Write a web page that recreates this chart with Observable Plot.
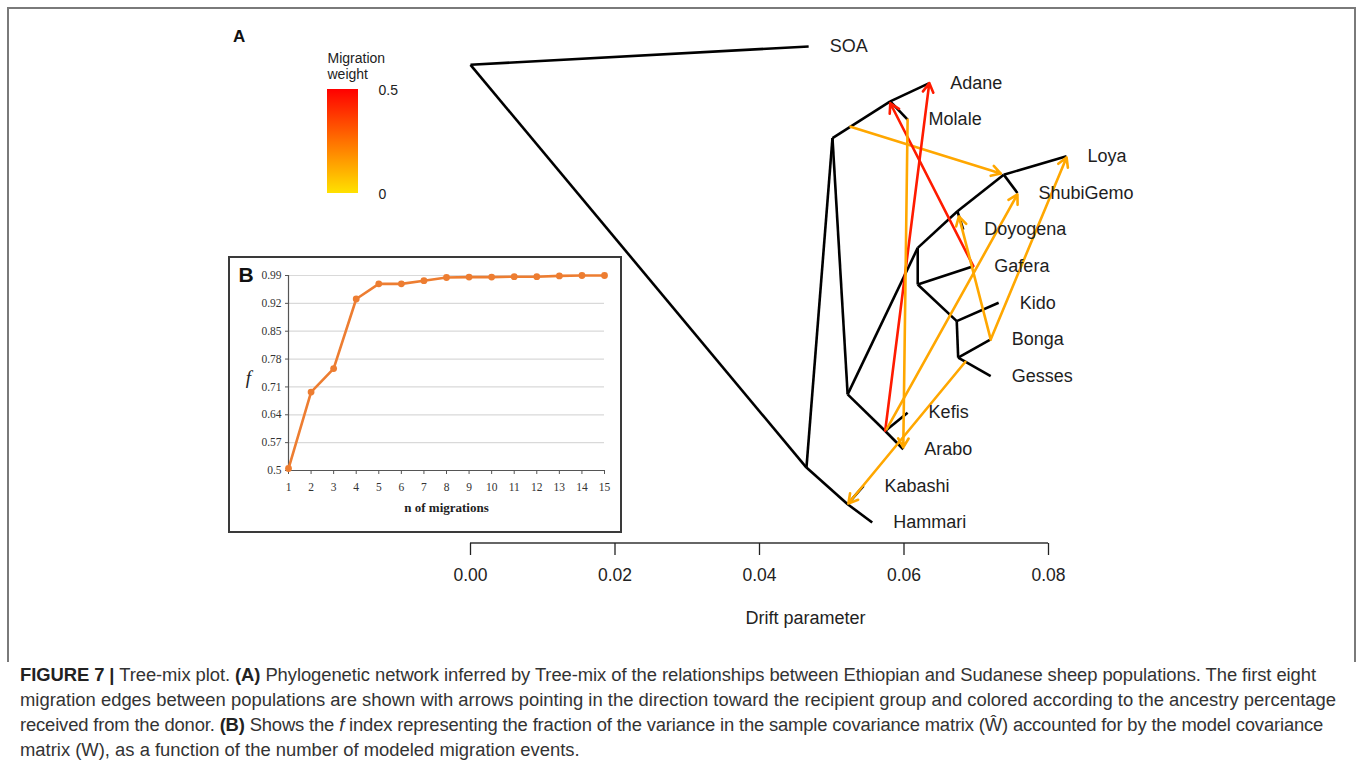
<!DOCTYPE html>
<html>
<head>
<meta charset="utf-8">
<script src="https://cdn.jsdelivr.net/npm/d3@7"></script>
<script src="https://cdn.jsdelivr.net/npm/@observablehq/plot@0.6"></script>
<style>
html,body{margin:0;padding:0;background:#fff;}
#page{position:relative;width:1360px;height:776px;overflow:hidden;font-family:"Liberation Sans",Arial,sans-serif;background:#fff;}
#frame{position:absolute;left:7px;top:7px;width:1349px;height:655px;border:2px solid #7a7a7a;border-bottom:none;box-sizing:border-box;}
#main{position:absolute;left:0;top:0;}
#legend{position:absolute;left:300px;top:40px;}
#inset{position:absolute;left:228px;top:256px;width:394px;height:277px;border:2px solid #3a3a3a;box-sizing:border-box;background:#fff;}
#labelA{position:absolute;left:233px;top:27px;font-weight:bold;font-size:17px;color:#111;}
#caption{position:absolute;left:20px;top:662px;font-size:15.5px;line-height:25px;color:#333;white-space:nowrap;}
#caption b{color:#222;}
</style>
</head>
<body>
<div id="page">
  <div id="frame"></div>
  <div id="main"></div>
  <div id="legend"></div>
  <div id="labelA">A</div>
  <div id="inset"></div>
  <div id="caption">
    <span class="capline" data-target="1316"><b>FIGURE 7 |</b> Tree-mix plot. <b>(A)</b> Phylogenetic network inferred by Tree-mix of the relationships between Ethiopian and Sudanese sheep populations. The first eight</span><br>
    <span class="capline" id="capline2" data-target="1336">migration edges between populations are shown with arrows pointing in the direction toward the recipient group and colored according to the ancestry percentage</span><br>
    <span class="capline" data-target="1323">received from the donor. <b>(B)</b> Shows the <i>f</i> index representing the fraction of the variance in the sample covariance matrix (W&#770;) accounted for by the model covariance</span><br>
    <span>matrix (W), as a function of the number of modeled migration events.</span>
  </div>
</div>
<script>
// ---------- Panel A: tree nodes (drift, row) ----------
const leafNames = ["SOA","Adane","Molale","Loya","ShubiGemo","Doyogena","Gafera","Kido","Bonga","Gesses","Kefis","Arabo","Kabashi","Hammari"];
const nodeNames = ["root","SOA","R2","A","AM","Adane","Molale","N1","N2","DY","LS","Loya","ShubiGemo","Doyogena","N3","Gafera","KBG","Kido","BG","Bonga","Gesses","KA","Kefis","Arabo","KH","Kabashi","Hammari"];
const nodeDrift = [0, 0.0468, 0.0465, 0.0501, 0.0581, 0.0635, 0.0605, 0.0522, 0.0619, 0.0674, 0.0738, 0.0825, 0.0757, 0.0682, 0.0619, 0.0696, 0.0673, 0.0731, 0.0675, 0.0720, 0.0720, 0.0574, 0.0605, 0.0599, 0.0522, 0.0544, 0.0556];
const nodeRow   = [0.5, 0, 11.5, 2.5, 1.5, 1, 2, 9.5, 5.5, 4.5, 3.5, 3, 4, 5, 6.5, 6, 7.5, 7, 8.5, 8, 9, 10.5, 10, 11, 12.5, 12, 13];
const edgeParent = ["root","root","R2","R2","A","A","AM","AM","N1","N1","N2","N2","DY","DY","LS","LS","N3","N3","KBG","KBG","BG","BG","KA","KA","KH","KH"];
const edgeChild  = ["SOA","R2","A","KH","AM","N1","Adane","Molale","N2","KA","DY","N3","LS","Doyogena","Loya","ShubiGemo","Gafera","KBG","Kido","BG","Bonga","Gesses","Kefis","Arabo","Kabashi","Hammari"];
// ---------- Panel A: migration edges ----------
const migFromDrift = [0.0526, 0.0574, 0.0696, 0.0605, 0.0720, 0.0576, 0.0685, 0.0720];
const migFromRow   = [2.19, 10.49, 6.0, 2.0, 8.0, 10.45, 8.61, 8.0];
const migToDrift   = [0.0734, 0.0635, 0.0581, 0.0599, 0.0676, 0.0757, 0.0523, 0.0825];
const migToRow     = [3.47, 1.0, 1.55, 10.95, 4.64, 4.04, 12.48, 3.03];
const migWeight    = [0.13, 0.44, 0.44, 0.13, 0.13, 0.13, 0.13, 0.13];
const driftTicks = [0, 0.02, 0.04, 0.06, 0.08];
const weightDomain = [0, 0.5];
const weightColors = ["#ffe100", "#ff0000"];
const legendTicks = [0, 0.5];
// ---------- Panel B ----------
const nMigrations = [1,2,3,4,5,6,7,8,9,10,11,12,13,14,15];
const fValues = [0.505, 0.697, 0.756, 0.931, 0.969, 0.969, 0.977, 0.985, 0.986, 0.986, 0.987, 0.987, 0.989, 0.990, 0.990];
const fTicks = [0.5, 0.57, 0.64, 0.71, 0.78, 0.85, 0.92, 0.99];

const nodeIndex = new Map(nodeNames.map((n, i) => [n, i]));
const dx = n => nodeDrift[nodeIndex.get(n)];
const ry = n => nodeRow[nodeIndex.get(n)];
const edgeIdx = edgeParent.map((_, i) => i);
const migIdx = migWeight.map((_, i) => i);

const colorOpts = {type: "linear", domain: weightDomain, range: weightColors, interpolate: "rgb"};
const colorScale = Plot.scale({color: colorOpts});

const mainH = 662;
const axisLine = (index, scales, values, dims) => {
  const y = dims.height - dims.marginBottom;
  const x0 = scales.x ? scales.x(driftTicks[0]) : dims.marginLeft;
  const x1 = scales.x ? scales.x(driftTicks[driftTicks.length - 1]) : dims.width - dims.marginRight;
  const l = d3.create("svg:line").attr("x1", x0).attr("x2", x1).attr("y1", y).attr("y2", y)
    .attr("stroke", "#333").attr("stroke-width", 1.3);
  return l.node();
};

const main = Plot.plot({
  width: 1360, height: mainH,
  marginLeft: 470, marginRight: 312, marginTop: 0, marginBottom: mainH - 543,
  x: {domain: [0, 0.08]},
  y: {domain: [0, 13], range: [46, 522], axis: null},
  color: colorOpts,
  style: {fontFamily: "'Liberation Sans', Arial, sans-serif", fontSize: "17px", background: "transparent", color: "#222", overflow: "visible"},
  marks: [
    axisLine,
    Plot.axisX({ticks: driftTicks, tickFormat: d3.format(".2f"), tickSize: 12, tickPadding: 13, fontSize: 17.5, label: null, strokeWidth: 1.3}),
    Plot.text(["Drift parameter"], {frameAnchor: "bottom", dx: 46, dy: 75, lineAnchor: "middle", fontSize: 18, fill: "#222"}),
    Plot.link(edgeIdx, {
      x1: i => dx(edgeParent[i]), y1: i => ry(edgeParent[i]),
      x2: i => dx(edgeChild[i]), y2: i => ry(edgeChild[i]),
      stroke: "#000", strokeWidth: 2.6
    }),
    Plot.arrow(migIdx, {
      x1: i => migFromDrift[i], y1: i => migFromRow[i],
      x2: i => migToDrift[i], y2: i => migToRow[i],
      stroke: i => migWeight[i], strokeWidth: 2.6, headLength: 6, headAngle: 60
    }),
    Plot.text(leafNames, {x: n => dx(n), y: n => ry(n), text: n => n, dx: 21, textAnchor: "start", fontSize: 18, fill: "#1e1e1e"})
  ]
});
document.getElementById("main").appendChild(main);

// ---------- Legend ----------
const legendBar = (index, scales, values, dims) => {
  const g = d3.create("svg:g");
  const grad = g.append("defs").append("linearGradient").attr("id", "mwgrad")
    .attr("x1", 0).attr("y1", 1).attr("x2", 0).attr("y2", 0);
  const stops = [0, 0.1, 0.2, 0.3, 0.4, 0.5, 0.6, 0.7, 0.8, 0.9, 1];
  for (const t of stops) {
    grad.append("stop").attr("offset", t)
      .attr("stop-color", colorScale.apply(weightDomain[0] + t * (weightDomain[1] - weightDomain[0])));
  }
  const yb = scales.y ? scales.y(weightDomain[0]) : 153;
  const yt = scales.y ? scales.y(weightDomain[1]) : 49;
  g.append("rect").attr("x", 27).attr("width", 31).attr("y", yt).attr("height", yb - yt).attr("fill", "url(#mwgrad)");
  return g.node();
};
const legend = Plot.plot({
  width: 110, height: 170, marginTop: 0, marginBottom: 0, marginLeft: 0, marginRight: 0,
  y: {domain: weightDomain, range: [153, 49], axis: null},
  style: {fontFamily: "'Liberation Sans', Arial, sans-serif", background: "transparent", color: "#222"},
  marks: [
    legendBar,
    Plot.text(legendTicks, {y: d => d, text: d => d === 0 ? "0" : String(d), frameAnchor: "left", dx: 78, dy: 1, textAnchor: "start", lineAnchor: "middle", fontSize: 14, fill: "#222"}),
    Plot.text(["Migration\nweight"], {frameAnchor: "top-left", dx: 27, dy: 11, lineAnchor: "top", textAnchor: "start", fontSize: 14, lineHeight: 1.15, fill: "#222"})
  ]
});
document.getElementById("legend").appendChild(legend);

// ---------- Panel B ----------
const insetH = 273;
const inset = Plot.plot({
  width: 390, height: insetH,
  marginLeft: 58, marginRight: 16, marginTop: 17, marginBottom: insetH - 212,
  x: {domain: [1, 15]},
  y: {domain: [0.5, 0.99]},
  style: {fontFamily: "'Liberation Serif', 'Times New Roman', serif", fontSize: "11.5px", background: "#fff", color: "#333"},
  marks: [
    Plot.gridY(fTicks, {stroke: "#d9d9d9", strokeOpacity: 1, strokeWidth: 1.2}),
    Plot.axisY({ticks: fTicks, tickFormat: d => String(d), tickSize: 3, tickPadding: 4, label: null, stroke: "#555"}),
    Plot.axisX({ticks: nMigrations, tickFormat: d => String(d), tickSize: 4, tickPadding: 8, label: null, stroke: "#555"}),
    Plot.ruleX([1], {stroke: "#555", strokeWidth: 1.2}),
    Plot.ruleY([0.5], {stroke: "#555", strokeWidth: 1.2}),
    Plot.line(nMigrations, {x: d => d, y: (d, i) => fValues[i], stroke: "#ED7D31", strokeWidth: 2.6}),
    Plot.dot(nMigrations, {x: d => d, y: (d, i) => fValues[i], r: 3.4, fill: "#ED7D31"}),
    Plot.text(["n of migrations"], {frameAnchor: "bottom", dy: 37, lineAnchor: "middle", textAnchor: "middle", fontWeight: "bold", fontSize: 13, fill: "#222"}),
    Plot.text(["f"], {frameAnchor: "left", dx: -40, dy: 4.5, lineAnchor: "middle", textAnchor: "middle", fontStyle: "italic", fontSize: 19, fill: "#222"}),
    Plot.text(["B"], {frameAnchor: "top-left", dx: -42.5, dy: -0.5, lineAnchor: "middle", textAnchor: "middle", fontWeight: "bold", fontSize: 21, fill: "#111", fontFamily: "'Liberation Sans', Arial, sans-serif"})
  ]
});
document.getElementById("inset").appendChild(inset);

// ---------- caption fit ----------
const cap = document.getElementById("caption");
const l2 = document.getElementById("capline2");
const w2 = l2.getBoundingClientRect().width;
if (w2 > 0) cap.style.fontSize = (15.5 * 1316 / w2) + "px";
for (const s of document.querySelectorAll(".capline")) {
  const target = +s.dataset.target - 20;
  const w = s.getBoundingClientRect().width;
  const n = s.textContent.length;
  if (w > 0 && n > 0) s.style.letterSpacing = ((target - w) / n) + "px";
}
</script>
</body>
</html>
